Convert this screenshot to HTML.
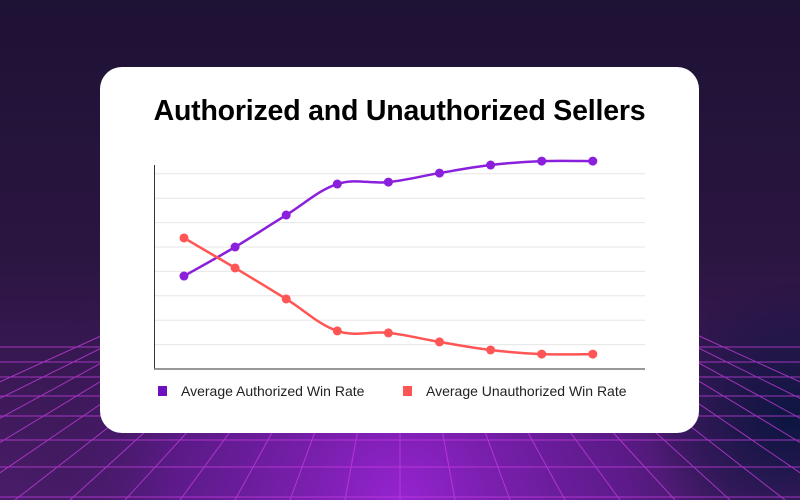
<!DOCTYPE html>
<html><head><meta charset="utf-8"><style>
html,body{margin:0;padding:0;width:800px;height:500px;overflow:hidden;font-family:"Liberation Sans",sans-serif}
#bg{position:absolute;left:0;top:0}
#card{position:absolute;left:100px;top:67px;width:599px;height:366px;background:#fff;border-radius:22px}
#title{position:absolute;left:100px;top:95px;width:599px;text-align:center;font-weight:bold;font-size:28.5px;color:#000;letter-spacing:-0.2px}
#chart{position:absolute;left:0;top:0}
</style></head><body>
<svg id="bg" width="800" height="500">
<defs>
<linearGradient id="g1" x1="0" y1="0" x2="0" y2="1"><stop offset="0" stop-color="#1e1235"/><stop offset="0.5" stop-color="#2a1540"/><stop offset="1" stop-color="#4a1c6a"/></linearGradient>
<radialGradient id="g2" cx="400" cy="500" r="380" gradientUnits="userSpaceOnUse"><stop offset="0" stop-color="#9a24d6" stop-opacity="0.95"/><stop offset="0.6" stop-color="#6a1aa0" stop-opacity="0.6"/><stop offset="1" stop-color="#2a1545" stop-opacity="0"/></radialGradient>
<radialGradient id="g3" cx="790" cy="420" r="140" gradientUnits="userSpaceOnUse"><stop offset="0" stop-color="#0c1540"/><stop offset="1" stop-color="#0c1540" stop-opacity="0"/></radialGradient>
</defs>
<rect width="800" height="500" fill="url(#g1)"/>
<rect width="800" height="500" fill="url(#g2)"/>
<rect width="800" height="500" fill="url(#g3)"/>
<g id="floor" stroke="#c63ee0" stroke-width="1" opacity="0.75"></g>
</svg>
<div id="card"></div>
<div id="title">Authorized and Unauthorized Sellers</div>
<svg id="chart" width="800" height="500"></svg>
<script>
const categories=["1","2","3","4","5","6","7","8","9"];
const authorized=[3.81,5.0,6.31,7.58,7.66,8.03,8.36,8.52,8.52];
const unauthorized=[5.37,4.14,2.87,1.56,1.48,1.11,0.78,0.61,0.61];
const gridValues=[1,2,3,4,5,6,7,8];
const seriesNames=["Average Authorized Win Rate","Average Unauthorized Win Rate"];
const NS="http://www.w3.org/2000/svg";
const floor=document.getElementById('floor');
[347,362,377,396,416,440,467,497].forEach(y=>{const l=document.createElementNS(NS,'line');l.setAttribute('x1',0);l.setAttribute('x2',800);l.setAttribute('y1',y);l.setAttribute('y2',y);


floor.appendChild(l);});
for(let k=-12;k<=12;k++){const l=document.createElementNS(NS,'line');const vy=200,by=500;const bx=400+k*55;const t=(335-vy)/(by-vy);l.setAttribute('x1',400+(bx-400)*t);l.setAttribute('y1',335);l.setAttribute('x2',bx);l.setAttribute('y2',by);


floor.appendChild(l);}
const svg=document.getElementById('chart');
const x=i=>184+i*51.1;
const y=v=>369-v*24.4;
function el(t,a){const e=document.createElementNS(NS,t);for(const k in a)e.setAttribute(k,a[k]);svg.appendChild(e);return e;}
gridValues.forEach(v=>{const g=el('line',{x1:155,x2:645,y1:y(v),y2:y(v),stroke:'#e6e6e6','stroke-width':1});

});
const ya=el('line',{x1:154.5,x2:154.5,y1:165,y2:369,stroke:'#333','stroke-width':1});


const xa=el('line',{x1:154,x2:645,y1:369,y2:369,stroke:'#777','stroke-width':1.5});


function path(vals){const p=vals.map((v,i)=>[x(i),y(v)]);let d=`M${p[0][0]},${p[0][1]}`;
for(let i=0;i<p.length-1;i++){const p0=p[Math.max(0,i-1)],p1=p[i],p2=p[i+1],p3=p[Math.min(p.length-1,i+2)];const s=0.18;
d+=` C${p1[0]+(p2[0]-p0[0])*s},${p1[1]+(p2[1]-p0[1])*s} ${p2[0]-(p3[0]-p1[0])*s},${p2[1]-(p3[1]-p1[1])*s} ${p2[0]},${p2[1]}`;}return d;}
[[authorized,'#8a1fdc','authorized'],[unauthorized,'#ff5555','unauthorized']].forEach(([vals,c,n])=>{
const l=el('path',{d:path(vals),fill:'none',stroke:c,'stroke-width':2.5});


vals.forEach((v,i)=>{const d=el('circle',{cx:x(i),cy:y(v),r:4.5,fill:c});

});
});
[[158,'#6d10c0',seriesNames[0],'legend-authorized'],[403,'#ff5555',seriesNames[1],'legend-unauthorized']].forEach(([lx,c,t,n])=>{
const r=el('rect',{x:lx,y:386,width:9,height:10,fill:c});


const tx=el('text',{x:lx+23,y:396,'font-size':14,fill:'#222','font-family':'Liberation Sans, sans-serif'});tx.textContent=t;


});
</script>
</body></html>
